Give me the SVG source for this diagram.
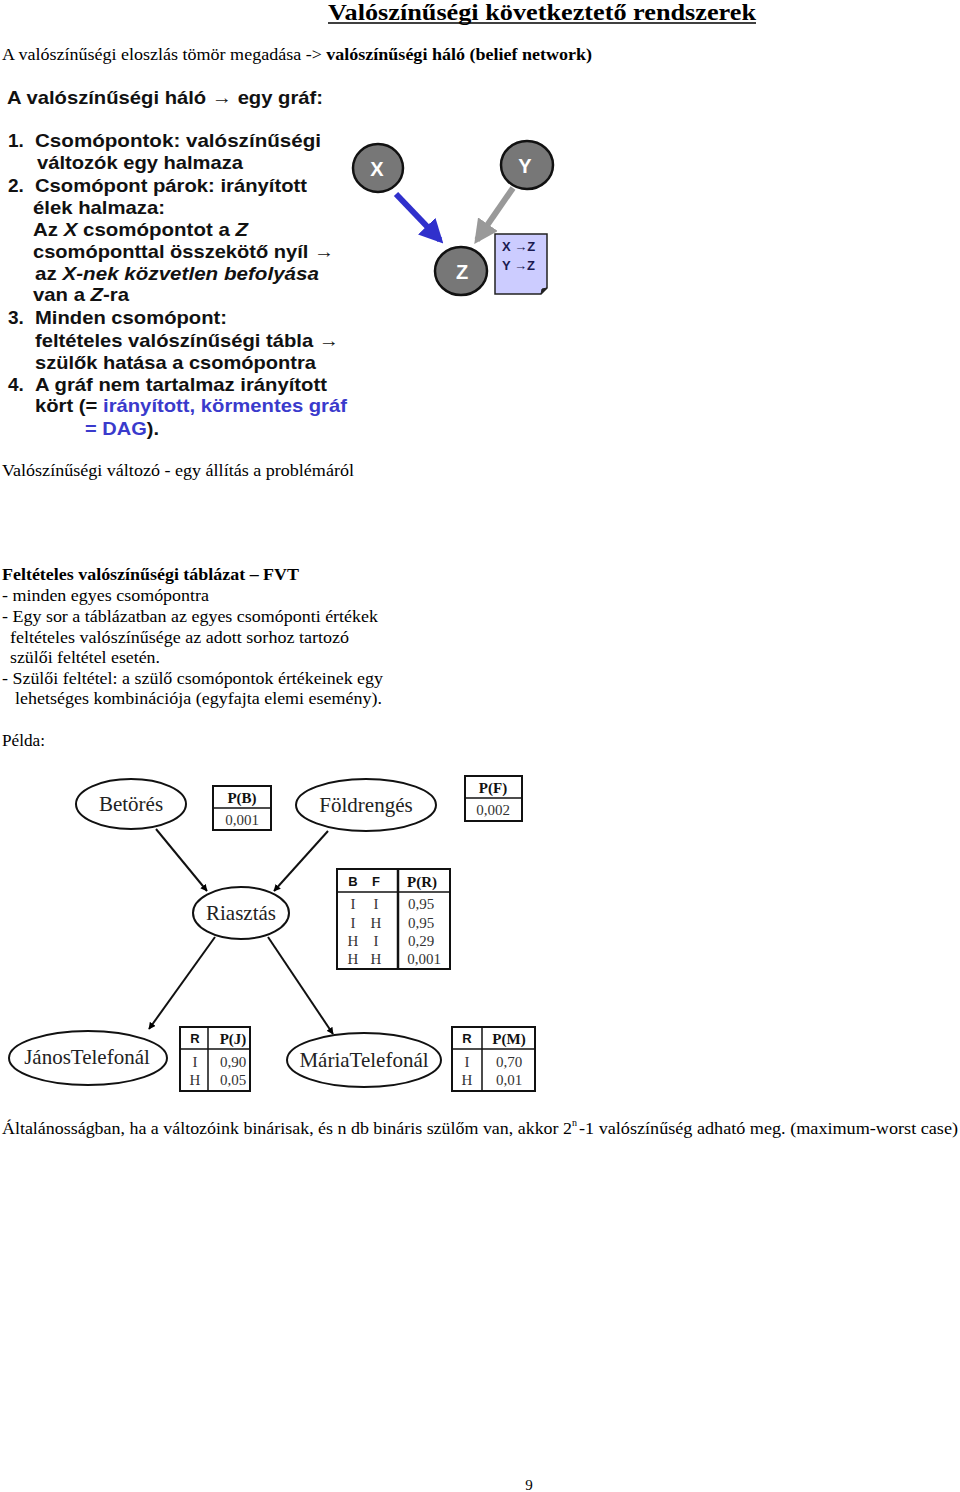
<svg xmlns="http://www.w3.org/2000/svg" width="960" height="1492" viewBox="0 0 960 1492">
<defs>
<marker id="ah" viewBox="0 0 10 10" refX="9" refY="5" markerWidth="7" markerHeight="7" orient="auto" markerUnits="userSpaceOnUse"><path d="M0,0 L10,5 L0,10 z" fill="#000"/></marker>
<marker id="ahBlue" viewBox="0 0 10 10" refX="8" refY="5" markerWidth="4" markerHeight="4" orient="auto"><path d="M0,0 L10,5 L0,10 z" fill="#3030cc"/></marker>
<marker id="ahGray" viewBox="0 0 10 10" refX="8" refY="5" markerWidth="4" markerHeight="4" orient="auto"><path d="M0,0 L10,5 L0,10 z" fill="#999"/></marker>
</defs>
<style>
.serif{font-family:"Liberation Serif","Times New Roman",serif;fill:#000}
.body{font-size:17.5px}
.b{font-weight:bold}
.sl{font-family:"Liberation Sans",Arial,sans-serif;font-weight:bold;font-size:19px;fill:#111}
.blue{fill:#3a3acc}
.gnode{fill:#777;stroke:#111;stroke-width:2.5}
.gtxt{font-family:"Liberation Sans",Arial,sans-serif;font-weight:bold;font-size:20px;fill:#fff;text-anchor:middle}
.bn{fill:#fff;stroke:#111;stroke-width:2}
.bnt{font-family:"Liberation Serif","Times New Roman",serif;font-size:21px;fill:#222;text-anchor:middle}
.tb{fill:#fff;stroke:#111;stroke-width:2}
.tl{stroke:#111;stroke-width:1.5}
.tt{font-family:"Liberation Serif","Times New Roman",serif;font-size:15px;fill:#333;text-anchor:middle}
.th{font-family:"Liberation Serif","Times New Roman",serif;font-size:15px;font-weight:bold;fill:#111;text-anchor:middle}
.ths{font-family:"Liberation Sans",Arial,sans-serif;font-size:13px;font-weight:bold;fill:#111;text-anchor:middle}
.edge{stroke:#111;stroke-width:2;fill:none}
</style>

<!-- Title -->
<text class="serif b" x="328" y="20" font-size="24" textLength="428" lengthAdjust="spacingAndGlyphs">Valószínűségi következtető rendszerek</text>
<line x1="328" y1="23" x2="756" y2="23" stroke="#000" stroke-width="1.5"/>

<text class="serif body" x="2" y="60" textLength="590" lengthAdjust="spacingAndGlyphs">A valószínűségi eloszlás tömör megadása -&gt; <tspan class="b">valószínűségi háló (belief network)</tspan></text>

<!-- List block -->
<g id="list">
<text class="sl" x="7" y="104" textLength="316" lengthAdjust="spacingAndGlyphs">A valószínűségi háló → egy gráf:</text>
<text class="sl" x="8" y="147">1.</text><text class="sl" x="35" y="147" textLength="286" lengthAdjust="spacingAndGlyphs">Csomópontok:  valószínűségi</text>
<text class="sl" x="37" y="169" textLength="206" lengthAdjust="spacingAndGlyphs">változók egy halmaza</text>
<text class="sl" x="8" y="192">2.</text><text class="sl" x="35" y="192" textLength="272" lengthAdjust="spacingAndGlyphs">Csomópont párok: irányított</text>
<text class="sl" x="33" y="214" textLength="132" lengthAdjust="spacingAndGlyphs">élek halmaza:</text>
<text class="sl" x="33" y="236" textLength="215" lengthAdjust="spacingAndGlyphs">Az <tspan font-style="italic">X</tspan> csomópontot a <tspan font-style="italic">Z</tspan></text>
<text class="sl" x="33" y="258" textLength="301" lengthAdjust="spacingAndGlyphs">csomóponttal összekötő nyíl →</text>
<text class="sl" x="35" y="280" textLength="284" lengthAdjust="spacingAndGlyphs">az  <tspan font-style="italic">X-nek közvetlen befolyása</tspan></text>
<text class="sl" x="33" y="301" textLength="96" lengthAdjust="spacingAndGlyphs">van a <tspan font-style="italic">Z</tspan>-ra</text>
<text class="sl" x="8" y="324">3.</text><text class="sl" x="35" y="324" textLength="192" lengthAdjust="spacingAndGlyphs">Minden csomópont:</text>
<text class="sl" x="35" y="347" textLength="304" lengthAdjust="spacingAndGlyphs">feltételes valószínűségi tábla →</text>
<text class="sl" x="35" y="369" textLength="281" lengthAdjust="spacingAndGlyphs">szülők hatása a csomópontra</text>
<text class="sl" x="8" y="391">4.</text><text class="sl" x="35" y="391" textLength="292" lengthAdjust="spacingAndGlyphs">A gráf nem tartalmaz irányított</text>
<text class="sl" x="35" y="412" textLength="312" lengthAdjust="spacingAndGlyphs">kört (= <tspan class="blue">irányított, körmentes gráf</tspan></text>
<text class="sl" x="85" y="435" textLength="74" lengthAdjust="spacingAndGlyphs"><tspan class="blue">= DAG</tspan>).</text>
</g>

<!-- XYZ graph -->
<g id="xyz-edges">
<line x1="396" y1="194" x2="440" y2="240" stroke="#3030cc" stroke-width="6" marker-end="url(#ahBlue)"/>
<line x1="513" y1="188" x2="477" y2="240" stroke="#999" stroke-width="6" marker-end="url(#ahGray)"/>
</g>
<g id="node-X"><ellipse class="gnode" cx="378" cy="168" rx="25" ry="24"/><text class="gtxt" x="377" y="176">X</text></g>
<g id="node-Y"><ellipse class="gnode" cx="527" cy="165" rx="26" ry="24"/><text class="gtxt" x="525" y="173">Y</text></g>
<g id="node-Z"><ellipse class="gnode" cx="461" cy="271" rx="26" ry="24"/><text class="gtxt" x="462" y="279">Z</text></g>
<g id="note">
<path d="M495,234 H547 V288 L541,294 H495 Z" fill="#ccccff" stroke="#222" stroke-width="1.5"/>
<path d="M541,294 L542,289 L547,288" fill="#222" stroke="#222" stroke-width="1"/>
<text x="502" y="251" font-family="Liberation Sans,Arial,sans-serif" font-size="13" font-weight="bold" fill="#1a1a50">X →Z</text>
<text x="502" y="270" font-family="Liberation Sans,Arial,sans-serif" font-size="13" font-weight="bold" fill="#1a1a50">Y →Z</text>
</g>

<text class="serif body" x="2" y="476" textLength="352" lengthAdjust="spacingAndGlyphs">Valószínűségi változó - egy állítás a problémáról</text>

<g id="fvt-text">
<text class="serif body b" x="2" y="580" textLength="297" lengthAdjust="spacingAndGlyphs">Feltételes valószínűségi táblázat – FVT</text>
<text class="serif body" x="2" y="601" textLength="207" lengthAdjust="spacingAndGlyphs">- minden egyes csomópontra</text>
<text class="serif body" x="2" y="622" textLength="376" lengthAdjust="spacingAndGlyphs">- Egy sor a táblázatban az egyes csomóponti értékek</text>
<text class="serif body" x="10" y="643" textLength="339" lengthAdjust="spacingAndGlyphs">feltételes valószínűsége az adott sorhoz tartozó</text>
<text class="serif body" x="10" y="663" textLength="150" lengthAdjust="spacingAndGlyphs">szülői feltétel esetén.</text>
<text class="serif body" x="2" y="684" textLength="381" lengthAdjust="spacingAndGlyphs">- Szülői feltétel: a szülő csomópontok értékeinek egy</text>
<text class="serif body" x="15" y="704" textLength="367" lengthAdjust="spacingAndGlyphs">lehetséges kombinációja (egyfajta elemi esemény).</text>
<text class="serif body" x="2" y="746" textLength="43" lengthAdjust="spacingAndGlyphs">Példa:</text>
</g>

<!-- Bayesian network -->
<g id="connectors">
<line class="edge" x1="156" y1="829" x2="207" y2="891" marker-end="url(#ah)"/>
<line class="edge" x1="328" y1="831" x2="274" y2="891" marker-end="url(#ah)"/>
<line class="edge" x1="215" y1="937" x2="149" y2="1029" marker-end="url(#ah)"/>
<line class="edge" x1="268" y1="937" x2="333" y2="1034" marker-end="url(#ah)"/>
</g>

<g id="node-betores"><ellipse class="bn" cx="131" cy="804" rx="55" ry="25"/><text class="bnt" x="131" y="811">Betörés</text></g>
<g id="table-PB">
<rect class="tb" x="213" y="786" width="58" height="44"/><line class="tl" x1="213" y1="808" x2="271" y2="808"/>
<text class="th" x="242" y="803">P(B)</text><text class="tt" x="242" y="825">0,001</text>
</g>
<g id="node-foldrenges"><ellipse class="bn" cx="366" cy="805" rx="70" ry="26"/><text class="bnt" x="366" y="812">Földrengés</text></g>
<g id="table-PF">
<rect class="tb" x="465" y="776" width="57" height="45"/><line class="tl" x1="465" y1="798" x2="522" y2="798"/>
<text class="th" x="493" y="793">P(F)</text><text class="tt" x="493" y="815">0,002</text>
</g>
<g id="node-riasztas"><ellipse class="bn" cx="241" cy="913" rx="48" ry="26"/><text class="bnt" x="241" y="920">Riasztás</text></g>
<g id="table-PR">
<rect class="tb" x="337" y="869" width="113" height="100"/>
<line class="tl" x1="337" y1="892" x2="450" y2="892"/>
<line x1="398" y1="869" x2="398" y2="969" stroke="#111" stroke-width="2.5"/>
<text class="ths" x="353" y="886">B</text><text class="ths" x="376" y="886">F</text><text class="th" x="422" y="887">P(R)</text>
<text class="tt" x="353" y="909">I</text><text class="tt" x="376" y="909">I</text><text class="tt" x="421" y="909">0,95</text>
<text class="tt" x="353" y="928">I</text><text class="tt" x="376" y="928">H</text><text class="tt" x="421" y="928">0,95</text>
<text class="tt" x="353" y="946">H</text><text class="tt" x="376" y="946">I</text><text class="tt" x="421" y="946">0,29</text>
<text class="tt" x="353" y="964">H</text><text class="tt" x="376" y="964">H</text><text class="tt" x="424" y="964">0,001</text>
</g>
<g id="node-janos"><ellipse class="bn" cx="88" cy="1058" rx="79" ry="27"/><text class="bnt" x="87" y="1064">JánosTelefonál</text></g>
<g id="table-PJ">
<rect class="tb" x="180" y="1027" width="70" height="64"/>
<line class="tl" x1="180" y1="1049" x2="250" y2="1049"/><line class="tl" x1="208" y1="1027" x2="208" y2="1091"/>
<text class="ths" x="195" y="1043">R</text><text class="th" x="233" y="1044">P(J)</text>
<text class="tt" x="195" y="1067">I</text><text class="tt" x="233" y="1067">0,90</text>
<text class="tt" x="195" y="1085">H</text><text class="tt" x="233" y="1085">0,05</text>
</g>
<g id="node-maria"><ellipse class="bn" cx="364" cy="1060" rx="77" ry="27"/><text class="bnt" x="364" y="1067">MáriaTelefonál</text></g>
<g id="table-PM">
<rect class="tb" x="452" y="1027" width="83" height="64"/>
<line class="tl" x1="452" y1="1049" x2="535" y2="1049"/><line class="tl" x1="482" y1="1027" x2="482" y2="1091"/>
<text class="ths" x="467" y="1043">R</text><text class="th" x="509" y="1044">P(M)</text>
<text class="tt" x="467" y="1067">I</text><text class="tt" x="509" y="1067">0,70</text>
<text class="tt" x="467" y="1085">H</text><text class="tt" x="509" y="1085">0,01</text>
</g>

<text class="serif body" x="2" y="1134" textLength="570" lengthAdjust="spacingAndGlyphs">Általánosságban, ha a változóink binárisak, és n db bináris szülőm van, akkor 2</text>
<text class="serif" x="572" y="1126" font-size="10">n</text>
<text class="serif body" x="579" y="1134" textLength="379" lengthAdjust="spacingAndGlyphs">-1 valószínűség adható meg. (maximum-worst case)</text>

<text class="serif" x="529" y="1490" font-size="15" text-anchor="middle">9</text>
</svg>
